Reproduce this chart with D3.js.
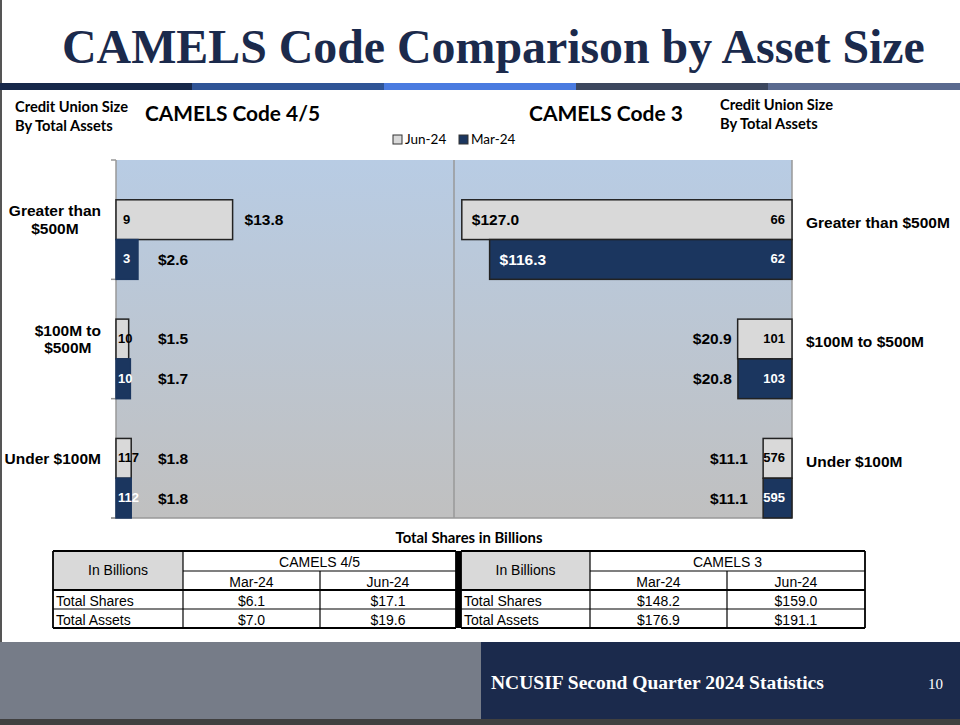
<!DOCTYPE html>
<html><head><meta charset="utf-8">
<script src="https://cdn.jsdelivr.net/npm/d3@7"></script>
<style>body{margin:0;background:#fff}svg{display:block}</style>
</head><body>
<svg id="c" width="960" height="725"></svg>
<script>
// ---------- data ----------
const categories = ["Greater than $500M", "$100M to $500M", "Under $100M"];
const leftCatLines = [["Greater than", "$500M"], ["$100M to", "$500M"], ["Under $100M"]];
const seriesNames = ["Jun-24", "Mar-24"];
const camels45Jun = [13.8, 1.5, 1.8];
const camels45Mar = [2.6, 1.7, 1.8];
const counts45Jun = [9, 10, 117];
const counts45Mar = [3, 10, 112];
const camels3Jun = [127.0, 20.9, 11.1];
const camels3Mar = [116.3, 20.8, 11.1];
const counts3Jun = [66, 101, 576];
const counts3Mar = [62, 103, 595];
const tableRows = ["Total Shares", "Total Assets"];
const tablePeriods = ["Mar-24", "Jun-24"];
const table45Mar = [6.1, 7.0];
const table45Jun = [17.1, 19.6];
const table3Mar = [148.2, 176.9];
const table3Jun = [159.0, 191.1];

// ---------- styles ----------
const NAVY = "#1b365f", LIGHT = "#d9d9d9", TITLE = "#1b2a4c";
const SANS = "'Liberation Sans', Arial, sans-serif";
const CAL = "Lato, 'Open Sans', sans-serif";
const SERIF = "'Liberation Serif', 'Times New Roman', serif";
const fmt = v => "$" + d3.format(".1f")(v);

const svg = d3.select("#c");

// scale a text's font size so that its natural width matches a target width
function fit(sel, target) {
  const fs = +sel.attr("font-size");
  const w = sel.node().getComputedTextLength();
  if (w > 0) sel.attr("font-size", (fs * target / w).toFixed(2));
  return sel;
}

// page frame
svg.append("rect").attr("x", 0).attr("y", 0).attr("width", 2).attr("height", 720).attr("fill", "#555");

// title
fit(svg.append("text").attr("x", 62).attr("y", 63)
  .attr("font-family", SERIF).attr("font-weight", "bold").attr("font-size", 50)
  .attr("fill", TITLE).text("CAMELS Code Comparison by Asset Size"), 863);

// stripe
const stripeColors = ["#17284a", "#2f5496", "#4a7be0", "#3c475e", "#5a6a8f"];
const sx = d3.scaleBand().domain(d3.range(5)).range([0, 960]);
svg.selectAll("rect.stripe").data(stripeColors).join("rect").attr("class", "stripe")
  .attr("x", (d, i) => sx(i)).attr("y", 83).attr("width", sx.bandwidth() + 0.5).attr("height", 7).attr("fill", d => d);

// headers
function twoLine(x, y, lines) {
  const t = svg.append("text").attr("font-family", CAL).attr("font-weight", "bold").attr("font-size", 14)
    .attr("fill", "#000");
  lines.forEach((l, i) => t.append("tspan").attr("x", x).attr("y", y + i * 19).text(l));
  const w = t.select("tspan").node().getComputedTextLength();
  t.attr("font-size", (14 * 113 / w).toFixed(2));
}
twoLine(15, 112, ["Credit Union Size", "By Total Assets"]);
twoLine(720, 110, ["Credit Union Size", "By Total Assets"]);
fit(svg.append("text").attr("x", 145).attr("y", 121).attr("font-family", CAL).attr("font-weight", "bold")
  .attr("font-size", 21).text("CAMELS Code 4/5"), 175);
fit(svg.append("text").attr("x", 529).attr("y", 121).attr("font-family", CAL).attr("font-weight", "bold")
  .attr("font-size", 21).text("CAMELS Code 3"), 154);

// legend
const legend = svg.append("g");
const legX = [393, 459];
seriesNames.forEach((s, i) => {
  legend.append("rect").attr("x", legX[i]).attr("y", 135).attr("width", 9).attr("height", 9)
    .attr("fill", i === 0 ? LIGHT : NAVY).attr("stroke", "#333").attr("stroke-width", 1);
  legend.append("text").attr("x", legX[i] + 12).attr("y", 144).attr("font-family", CAL)
    .attr("font-size", 13.5).text(s);
});

// ---------- chart ----------
const plotTop = 160, plotBottom = 518, leftX = 116, midX = 454, rightX = 792;
const y = d3.scaleBand().domain(categories).range([plotTop, plotBottom]);
const ySub = d3.scaleBand().domain(["gap", ...seriesNames]).range([0, y.bandwidth()]);
const xL = d3.scaleLinear().domain([0, 40]).range([leftX, midX]);
const xR = d3.scaleLinear().domain([0, 130]).range([rightX, midX]);

const defs = svg.append("defs");
const grad = defs.append("linearGradient").attr("id", "bg").attr("x1", 0).attr("y1", 0).attr("x2", 0).attr("y2", 1);
grad.append("stop").attr("offset", "0%").attr("stop-color", "#b8cce4");
grad.append("stop").attr("offset", "100%").attr("stop-color", "#c0c0c0");
svg.append("rect").attr("x", leftX).attr("y", plotTop).attr("width", rightX - leftX).attr("height", plotBottom - plotTop)
  .attr("fill", "url(#bg)");

// axes lines
const axisG = svg.append("g").attr("stroke", "#999").attr("stroke-width", 1.5);
axisG.append("line").attr("x1", leftX).attr("x2", leftX).attr("y1", plotTop).attr("y2", plotBottom);
axisG.append("line").attr("x1", midX).attr("x2", midX).attr("y1", plotTop).attr("y2", plotBottom);
axisG.append("line").attr("x1", rightX).attr("x2", rightX).attr("y1", plotTop).attr("y2", plotBottom);
axisG.append("line").attr("x1", leftX - 5).attr("x2", rightX).attr("y1", plotBottom).attr("y2", plotBottom);
const bounds = categories.map(c => y(c)).concat([plotBottom]);
axisG.selectAll("line.tick").data(bounds).join("line").attr("class", "tick")
  .attr("x1", leftX - 5).attr("x2", leftX).attr("y1", d => d).attr("y2", d => d);

function rows(vJun, vMar, cJun, cMar) {
  const out = [];
  categories.forEach((c, i) => {
    out.push({ cat: c, s: "Jun-24", v: vJun[i], n: cJun[i] });
    out.push({ cat: c, s: "Mar-24", v: vMar[i], n: cMar[i] });
  });
  return out;
}
const leftData = rows(camels45Jun, camels45Mar, counts45Jun, counts45Mar);
const rightData = rows(camels3Jun, camels3Mar, counts3Jun, counts3Mar);
const by = d => y(d.cat) + ySub(d.s);
const bh = ySub.bandwidth();

// left bars
const gL = svg.append("g");
gL.selectAll("rect").data(leftData).join("rect")
  .attr("x", xL(0)).attr("y", by).attr("width", d => xL(d.v) - xL(0)).attr("height", bh)
  .attr("fill", d => d.s === "Jun-24" ? LIGHT : NAVY)
  .attr("stroke", d => d.s === "Jun-24" ? "#222" : NAVY).attr("stroke-width", 1.5);
gL.selectAll("text.cnt").data(leftData).join("text").attr("class", "cnt")
  .attr("x", d => xL(0) + (String(d.n).length === 1 ? 7 : 2)).attr("y", d => by(d) + bh / 2).attr("dy", "0.3em")
  .attr("font-family", SANS).attr("font-weight", "bold").attr("font-size", 13)
  .attr("fill", d => d.s === "Jun-24" ? "#000" : "#fff").text(d => d.n);
gL.selectAll("text.val").data(leftData).join("text").attr("class", "val")
  .attr("x", d => Math.max(xL(d.v) + 12, xL(0) + 42)).attr("y", d => by(d) + bh / 2).attr("dy", "0.35em")
  .attr("font-family", SANS).attr("font-weight", "bold").attr("font-size", 15.5)
  .attr("fill", "#000").text(d => fmt(d.v));

// right bars
const gR = svg.append("g");
gR.selectAll("rect").data(rightData).join("rect")
  .attr("x", d => xR(d.v)).attr("y", by).attr("width", d => xR(0) - xR(d.v)).attr("height", bh)
  .attr("fill", d => d.s === "Jun-24" ? LIGHT : NAVY)
  .attr("stroke", "#222").attr("stroke-width", 1.5);
gR.selectAll("text.cnt").data(rightData).join("text").attr("class", "cnt")
  .attr("x", xR(0) - 7).attr("y", d => by(d) + bh / 2).attr("dy", "0.3em").attr("text-anchor", "end")
  .attr("font-family", SANS).attr("font-weight", "bold").attr("font-size", 13)
  .attr("fill", d => d.s === "Jun-24" ? "#000" : "#fff").text(d => d.n);
gR.selectAll("text.val").data(rightData).join("text").attr("class", "val")
  .attr("x", d => (xR(0) - xR(d.v) > 100) ? xR(d.v) + 10 : Math.min(xR(d.v) - 6, xR(0) - 44))
  .attr("text-anchor", d => (xR(0) - xR(d.v) > 100) ? "start" : "end")
  .attr("y", d => by(d) + bh / 2).attr("dy", "0.35em")
  .attr("font-family", SANS).attr("font-weight", "bold").attr("font-size", 15.5)
  .attr("fill", d => (xR(0) - xR(d.v) > 100 && d.s === "Mar-24") ? "#fff" : "#000").text(d => fmt(d.v));

// category labels left (block right-aligned at 101, lines centered)
categories.forEach((c, i) => {
  const lines = leftCatLines[i];
  const cy = y(c) + y.bandwidth() / 2;
  const lh = 17.5;
  const g = svg.append("g");
  const ts = lines.map((l, j) => g.append("text")
    .attr("y", cy + (j - (lines.length - 1) / 2) * lh).attr("dy", "0.35em")
    .attr("font-family", SANS).attr("font-weight", "bold").attr("font-size", 15.5)
    .attr("text-anchor", "middle").text(l));
  const w = d3.max(ts, t => t.node().getComputedTextLength());
  ts.forEach(t => t.attr("x", 101 - w / 2));
  svg.append("text").attr("x", 806).attr("y", cy + 3).attr("dy", "0.35em")
    .attr("font-family", SANS).attr("font-weight", "bold").attr("font-size", 15.5).text(c);
});

// ---------- tables ----------
fit(svg.append("text").attr("x", 469).attr("y", 543).attr("text-anchor", "middle")
  .attr("font-family", CAL).attr("font-weight", "bold").attr("font-size", 13)
  .text("Total Shares in Billions"), 147);

function table(cols, title, marVals, junVals) {
  const rowsY = [551, 571, 590, 609, 628];
  const g = svg.append("g").attr("font-family", SANS).attr("font-size", 14);
  g.append("rect").attr("x", cols[0]).attr("y", rowsY[0]).attr("width", cols[1] - cols[0]).attr("height", rowsY[2] - rowsY[0]).attr("fill", LIGHT);
  const ln = (x1, y1, x2, y2, w) => g.append("line").attr("x1", x1).attr("y1", y1).attr("x2", x2).attr("y2", y2)
    .attr("stroke", "#000").attr("stroke-width", w || 1.2);
  ln(cols[0], rowsY[0], cols[3], rowsY[0], 1.8);
  ln(cols[0], rowsY[4], cols[3], rowsY[4], 1.8);
  ln(cols[0], rowsY[0], cols[0], rowsY[4], 1.8);
  ln(cols[3], rowsY[0], cols[3], rowsY[4], 1.8);
  ln(cols[1], rowsY[1], cols[3], rowsY[1]);
  ln(cols[0], rowsY[2], cols[3], rowsY[2], 1.8);
  ln(cols[0], rowsY[3], cols[3], rowsY[3]);
  ln(cols[1], rowsY[0], cols[1], rowsY[4]);
  ln(cols[2], rowsY[1], cols[2], rowsY[4]);
  const mid = (a, b) => (a + b) / 2;
  g.append("text").attr("x", mid(cols[0], cols[1])).attr("y", 575).attr("text-anchor", "middle").text("In Billions");
  g.append("text").attr("x", mid(cols[1], cols[3])).attr("y", 567).attr("text-anchor", "middle").text(title);
  tablePeriods.forEach((p, i) => g.append("text").attr("x", mid(cols[1 + i], cols[2 + i])).attr("y", 587)
    .attr("text-anchor", "middle").text(p));
  tableRows.forEach((r, i) => {
    const yy = rowsY[2 + i] + 16;
    g.append("text").attr("x", cols[0] + 3).attr("y", yy).text(r);
    g.append("text").attr("x", mid(cols[1], cols[2])).attr("y", yy).attr("text-anchor", "middle").text(fmt(marVals[i]));
    g.append("text").attr("x", mid(cols[2], cols[3])).attr("y", yy).attr("text-anchor", "middle").text(fmt(junVals[i]));
  });
}
table([53, 183, 320, 456], "CAMELS 4/5", table45Mar, table45Jun);
table([461, 590, 727, 865], "CAMELS 3", table3Mar, table3Jun);
svg.append("rect").attr("x", 456).attr("y", 551).attr("width", 5).attr("height", 77).attr("fill", "#000");

// ---------- footer ----------
svg.append("rect").attr("x", 0).attr("y", 642).attr("width", 481).attr("height", 77).attr("fill", "#767c88");
svg.append("rect").attr("x", 481).attr("y", 642).attr("width", 479).attr("height", 77).attr("fill", "#1b2a4c");
svg.append("rect").attr("x", 0).attr("y", 719).attr("width", 960).attr("height", 6).attr("fill", "#404040");
fit(svg.append("text").attr("x", 491).attr("y", 689).attr("font-family", SERIF).attr("font-weight", "bold")
  .attr("font-size", 19).attr("fill", "#fff").text("NCUSIF Second Quarter 2024 Statistics"), 333);
svg.append("text").attr("x", 928).attr("y", 689).attr("font-family", SERIF)
  .attr("font-size", 15).attr("fill", "#fff").text("10");
</script>
</body></html>
